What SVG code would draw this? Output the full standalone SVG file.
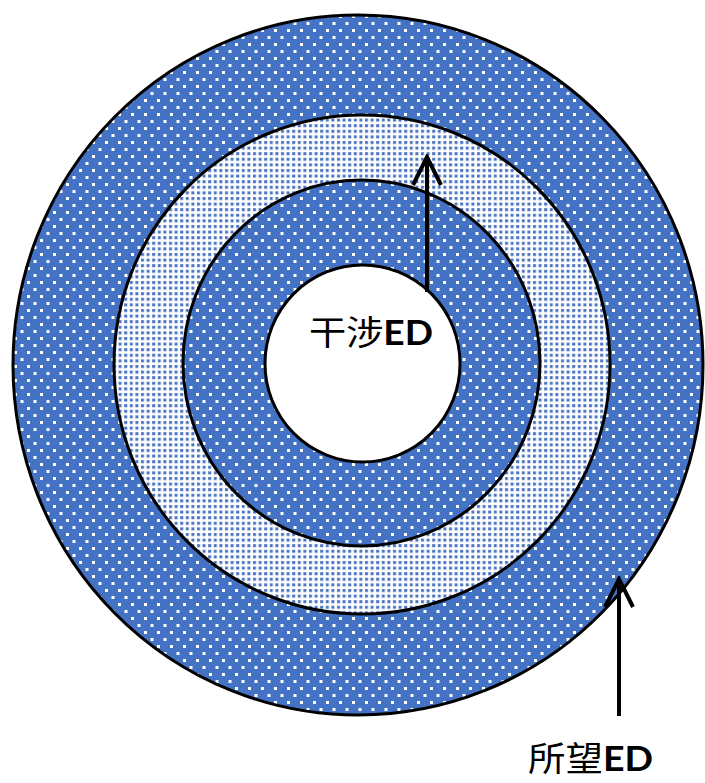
<svg xmlns="http://www.w3.org/2000/svg" width="705" height="783" viewBox="0 0 705 783">
  <defs>
    <pattern id="dark" patternUnits="userSpaceOnUse" width="13" height="14">
      <rect width="13" height="14" fill="#4472C4"/>
      <rect x="1" y="1" width="3" height="3" fill="#ffffff"/>
      <rect x="7.5" y="8" width="3" height="3" fill="#ffffff"/>
    </pattern>
    <pattern id="light" patternUnits="userSpaceOnUse" width="5.6" height="5.6">
      <rect width="5.6" height="5.6" fill="#ffffff"/>
      <rect x="1" y="1" width="3" height="3" fill="#4a74c2"/>
    </pattern>
    <marker id="arr" viewBox="-32 -18 35 36" refX="0" refY="0" markerWidth="35" markerHeight="36" markerUnits="userSpaceOnUse" orient="auto">
      <path d="M-28,-14 L0,0 L-28,14" fill="none" stroke="#000" stroke-width="4" stroke-linejoin="miter"/>
    </marker>
    <style>
      .ring { stroke: #000; stroke-width: 3; }
      .conn { stroke: #000; stroke-width: 4; fill: none; }
      .lbl { font-family: "Noto Sans CJK SC", "Noto Sans CJK JP", sans-serif; font-size: 34px; fill: #000; }
      .b { font-family: Lato, "Open Sans", sans-serif; font-weight: bold; }
    </style>
  </defs>
  <rect width="705" height="783" fill="#ffffff"/>
  <g id="outer-ring">
    <ellipse class="ring" cx="358" cy="365" rx="345" ry="350" fill="url(#dark)"/>
  </g>
  <g id="light-ring">
    <ellipse class="ring" cx="362" cy="364.5" rx="248" ry="249.5" fill="url(#light)"/>
  </g>
  <g id="inner-ring">
    <ellipse class="ring" cx="361.5" cy="363" rx="178.5" ry="183" fill="url(#dark)"/>
  </g>
  <g id="center">
    <ellipse class="ring" cx="362.5" cy="363.5" rx="97.5" ry="98.5" fill="#ffffff"/>
    <text class="lbl" x="309" y="345" textLength="124" lengthAdjust="spacingAndGlyphs">干涉<tspan class="b">ED</tspan></text>
  </g>
  <g id="connectors">
    <line class="conn" x1="427" y1="292" x2="427" y2="157" marker-end="url(#arr)"/>
    <line class="conn" x1="619" y1="716" x2="619" y2="579" marker-end="url(#arr)"/>
  </g>
  <g id="desired-label">
    <text class="lbl" x="528" y="771" textLength="125" lengthAdjust="spacingAndGlyphs">所望<tspan class="b">ED</tspan></text>
  </g>
</svg>
